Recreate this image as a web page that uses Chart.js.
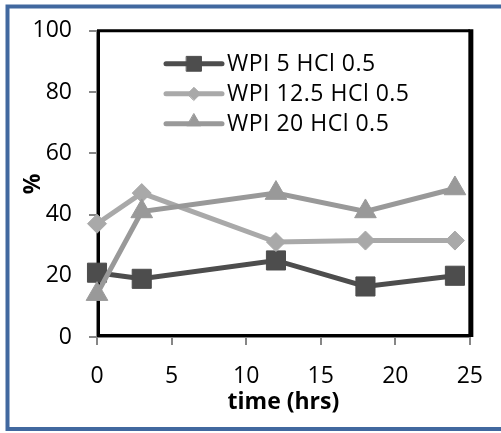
<!DOCTYPE html>
<html>
<head>
<meta charset="utf-8">
<script src="https://cdn.jsdelivr.net/npm/chart.js@4.4.1/dist/chart.umd.min.js"></script>
<style>
  html, body { margin: 0; padding: 0; background: #fff; }
  canvas { display: block; }
</style>
</head>
<body>
<canvas id="chart" width="501" height="433"></canvas>
<script>
// sampling times (hrs) and % values for each WPI level
const hours = [0, 3, 12, 18, 24];
const wpi5 = [21, 19, 25, 16.5, 20];
const wpi125 = [37, 47, 31, 31.5, 31.5];
const wpi20 = [14, 41, 47, 41, 48.5];
const seriesNames = ["WPI 5 HCl 0.5", "WPI 12.5 HCl 0.5", "WPI 20 HCl 0.5"];
const xTicks = [0, 5, 10, 15, 20, 25];
const yTicks = [0, 20, 40, 60, 80, 100];

const FONT = "'Open Sans', 'DejaVu Sans', sans-serif";
const AXIS_GREY = "#868686";

const styles = [
  { color: "#4d4d4d", point: "rect", radius: 13.5, legendRadius: 10.5 },
  { color: "#a9a9a9", point: "rectRot", radius: 9.5, legendRadius: 6.5 },
  { color: "#999999", point: "triangle", radius: 12.5, legendRadius: 8 },
];

const toPoints = (ys) => hours.map((h, i) => ({ x: h, y: ys[i] }));

const datasets = [wpi5, wpi125, wpi20].map((ys, i) => ({
  label: seriesNames[i],
  data: toPoints(ys),
  borderColor: styles[i].color,
  backgroundColor: styles[i].color,
  borderWidth: 5,
  pointStyle: styles[i].point,
  pointRadius: styles[i].radius,
  pointBorderWidth: 1,
  pointBackgroundColor: styles[i].color,
  pointBorderColor: styles[i].color,
  tension: 0,
  clip: false,
  order: 2 - i, // later series sit on top, as in the workbook
}));

// outer blue frame
const framePlugin = {
  id: "frame",
  beforeDraw(chart) {
    const ctx = chart.ctx;
    ctx.save();
    ctx.fillStyle = "#fff";
    ctx.fillRect(0, 0, chart.width, chart.height);
    ctx.strokeStyle = "#41689f";
    ctx.lineWidth = 4;
    ctx.strokeRect(7.5, 6.5, chart.width + 10, chart.height - 10.5);
    ctx.restore();
  },
};

// heavy black box round the plot area
const plotBoxPlugin = {
  id: "plotBox",
  beforeDatasetsDraw(chart) {
    const { ctx, chartArea: a } = chart;
    ctx.save();
    ctx.strokeStyle = "#000";
    ctx.lineWidth = 3;
    ctx.beginPath();
    ctx.moveTo(a.left + 1.5, a.bottom - 1.5);
    ctx.lineTo(a.left + 1.5, a.top);
    ctx.lineTo(a.right, a.top);
    ctx.stroke();
    ctx.beginPath();
    ctx.moveTo(a.left, a.bottom - 1.5);
    ctx.lineTo(a.right + 1, a.bottom - 1.5);
    ctx.stroke();
    ctx.lineWidth = 5;
    ctx.beginPath();
    ctx.moveTo(a.right + 1, a.top - 1.5);
    ctx.lineTo(a.right + 1, a.bottom);
    ctx.stroke();
    ctx.restore();
  },
};

// legend: short line with the marker in the middle, inside the plot
const lineLegendPlugin = {
  id: "lineLegend",
  afterDraw(chart) {
    const { ctx, chartArea: a } = chart;
    const x0 = a.left + 69, x1 = a.left + 125;
    ctx.save();
    ctx.font = "23px " + FONT;
    ctx.letterSpacing = "0.5px";
    ctx.textBaseline = "middle";
    ctx.fillStyle = "#000";
    seriesNames.forEach((name, i) => {
      const y = a.top + 33 + i * 30;
      const s = styles[i];
      ctx.strokeStyle = s.color;
      ctx.lineWidth = 5;
      ctx.lineCap = "round";
      ctx.beginPath();
      ctx.moveTo(x0, y);
      ctx.lineTo(x1, y);
      ctx.stroke();
      ctx.fillStyle = s.color;
      ctx.lineWidth = 1;
      Chart.helpers.drawPoint(ctx, { pointStyle: s.point, radius: s.legendRadius, rotation: 0, borderWidth: 1 },
        (x0 + x1) / 2, s.point === "triangle" ? y - 2 : y);
      ctx.fillStyle = "#000";
      ctx.fillText(name, x1 + 5, y + 1);
    });
    ctx.restore();
  },
};

new Chart(document.getElementById("chart"), {
  type: "line",
  data: { datasets },
  plugins: [framePlugin, plotBoxPlugin, lineLegendPlugin],
  options: {
    responsive: false,
    animation: false,
    devicePixelRatio: 1,
    layout: { padding: { top: 28, right: 24, left: 0, bottom: 0 } },
    plugins: { legend: { display: false }, tooltip: { enabled: false } },
    scales: {
      x: {
        type: "linear",
        min: xTicks[0],
        max: xTicks[xTicks.length - 1],
        afterBuildTicks: (s) => { s.ticks = xTicks.map((v) => ({ value: v })); },
        afterFit: (s) => { s.height = 96; },
        grid: { display: true, drawOnChartArea: false, drawTicks: true, tickLength: 8, color: AXIS_GREY, lineWidth: 2 },
        border: { display: true, color: AXIS_GREY, width: 2 },
        ticks: { color: "#000", padding: 18, maxRotation: 0, font: { family: FONT, size: 23 } },
        title: { display: true, text: "time (hrs)", color: "#000", padding: { top: 0, bottom: 17 }, font: { family: FONT, size: 23, weight: "bold" } },
      },
      y: {
        min: yTicks[0],
        max: yTicks[yTicks.length - 1],
        afterBuildTicks: (s) => { s.ticks = yTicks.map((v) => ({ value: v })); },
        afterFit: (s) => { s.width = 97; },
        grid: { display: true, drawOnChartArea: false, drawTicks: true, tickLength: 8, color: AXIS_GREY, lineWidth: 2 },
        border: { display: true, color: AXIS_GREY, width: 2 },
        ticks: { color: "#000", padding: 17, font: { family: FONT, size: 23 } },
        title: { display: true, text: "%", color: "#000", padding: { top: 20, bottom: 0 }, font: { family: FONT, size: 23, weight: "bold" } },
      },
    },
  },
});
</script>
</body>
</html>
